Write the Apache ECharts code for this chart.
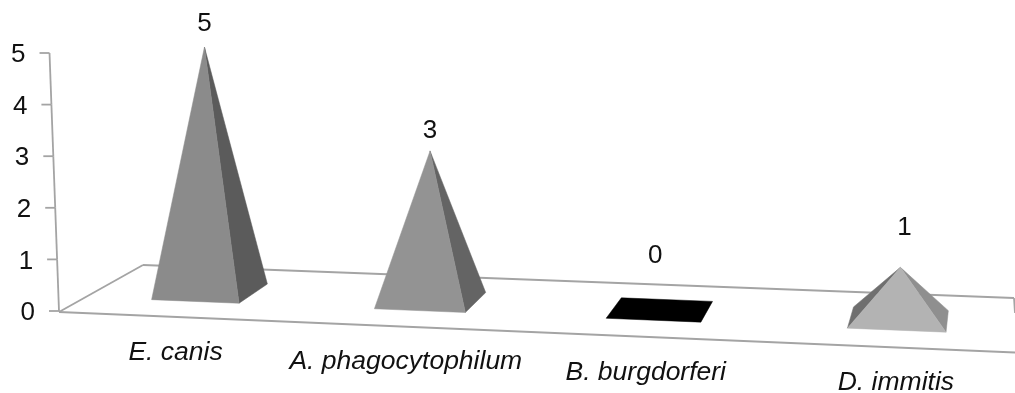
<!DOCTYPE html>
<html>
<head>
<meta charset="utf-8">
<style>html,body{margin:0;padding:0;background:#fff}#chart{width:1015px;height:393px}</style>
<script src="https://cdn.jsdelivr.net/npm/echarts@6/dist/echarts.min.js"></script>
</head>
<body>
<div id="chart"></div>
<script>
// Positive samples per pathogen
const categories = ['E. canis', 'A. phagocytophilum', 'B. burgdorferi', 'D. immitis'];
const positives = [5, 3, 0, 1];
const tickValues = [0, 1, 2, 3, 4, 5];

// Face shades per pyramid: front, right, left
const faceShades = [
  ['#8b8b8b', '#5b5b5b', '#5b5b5b'],
  ['#939393', '#646464', '#646464'],
  ['#000000', '#000000', '#000000'],
  ['#b3b3b3', '#8f8f8f', '#6f6f6f']
];
// Value label lift above the apex and sideways nudge
const labelShift = [[0, 23.5], [0, 20.5], [-5, 53.5], [4, 40]];

const LINE = '#a4a4a4';
const FONT = '"Liberation Sans", Arial, sans-serif';
const TEXT_SIZE = 26;

// Floor plane corners on the page: front-left, front-right, back-right, back-left
const corners = [[59, 312], [1015, 352.5], [1014, 298], [143, 265]];

// Unit square to floor quad, as a projective map
function buildHomography(q) {
  const [A, B, C, D] = q;
  const dx1 = B[0] - C[0], dy1 = B[1] - C[1];
  const dx2 = D[0] - C[0], dy2 = D[1] - C[1];
  const sx = A[0] - B[0] + C[0] - D[0], sy = A[1] - B[1] + C[1] - D[1];
  const det = dx1 * dy2 - dx2 * dy1;
  const g = (sx * dy2 - dx2 * sy) / det;
  const h = (dx1 * sy - sx * dy1) / det;
  return {
    g, h,
    a: B[0] - A[0] + g * B[0], b: D[0] - A[0] + h * D[0], c: A[0],
    d: B[1] - A[1] + g * B[1], e: D[1] - A[1] + h * D[1], f: A[1]
  };
}
const H = buildHomography(corners);
const denom = (u, w) => H.g * u + H.h * w + 1;
const floorPoint = (u, w) => {
  const z = denom(u, w);
  return [(H.a * u + H.b * w + H.c) / z, (H.d * u + H.e * w + H.f) / z];
};
// Verticals converge slightly as they rise
const tilt = x => (x - 500) / 12000;
const toU = x => (x - corners[0][0]) / (corners[1][0] - corners[0][0]);

const HALF_U = 0.05, NEAR_W = 0.3, FAR_W = 0.7, MID_W = 0.5, HEIGHT_SCALE = 0.985;

// Sign says which side of the directed ray a -> b the point p falls on
const cross = (a, b, p) => (b[0] - a[0]) * (p[1] - a[1]) - (b[1] - a[1]) * (p[0] - a[0]);

function renderPyramid(params, api) {
  const i = api.value(0), v = api.value(1);
  const cx = api.coord([i, 0])[0];
  const unitPx = api.coord([i, 0])[1] - api.coord([i, 1])[1];
  const u = toU(cx);
  const centre = floorPoint(u, MID_W);
  const rise = v * unitPx * HEIGHT_SCALE / denom(u, MID_W);
  const apex = [centre[0] + tilt(centre[0]) * rise, centre[1] - rise];
  const FL = floorPoint(u - HALF_U, NEAR_W), FR = floorPoint(u + HALF_U, NEAR_W);
  const BR = floorPoint(u + HALF_U, FAR_W), BL = floorPoint(u - HALF_U, FAR_W);
  const shade = faceShades[i];
  const poly = (points, fill, z2) => ({
    type: 'polygon', z2, shape: { points },
    style: { fill, stroke: fill, lineWidth: 0.5 }
  });
  const children = [];
  if (v === 0) {
    children.push(poly([FL, BL, BR, FR], shade[0], 2));
  } else {
    if (cross(FL, apex, BL) < 0) children.push(poly([FL, BL, apex], shade[2], 1));
    if (cross(FR, apex, BR) > 0) children.push(poly([FR, BR, apex], shade[1], 1));
    children.push(poly([FL, FR, apex], shade[0], 2));
  }
  const shift = labelShift[i];
  children.push({
    type: 'text', z2: 5,
    style: {
      text: String(v), x: apex[0] + shift[0], y: apex[1] - shift[1],
      font: TEXT_SIZE + 'px ' + FONT, fill: '#111', align: 'center', verticalAlign: 'middle'
    }
  });
  return { type: 'group', children };
}

function renderCategoryLabel(params, api) {
  const i = api.value(0);
  const u = toU(api.coord([i, 0])[0]);
  const front = floorPoint(u, 0);
  return {
    type: 'text',
    style: {
      text: categories[i], x: front[0] + 4.5 - 2 * u, y: front[1] + 35.5,
      font: 'italic 26.5px ' + FONT, fill: '#111', align: 'center', verticalAlign: 'middle'
    }
  };
}

// Slanted wall axis: one tick, one number and one spine segment per value
function renderAxisTick(params, api) {
  const v = api.value(1);
  const y = api.coord([0, v])[1], y0 = api.coord([0, 0])[1];
  const base = corners[0];
  const x = base[0] + tilt(base[0]) * (y0 - y);
  const children = [
    { type: 'line', shape: { x1: x - 10, y1: y, x2: x, y2: y }, style: { stroke: LINE, lineWidth: 1.8 } },
    {
      type: 'text',
      style: {
        text: String(v), x: x - 24, y: y + 2,
        font: TEXT_SIZE + 'px ' + FONT, fill: '#111', align: 'right', verticalAlign: 'middle'
      }
    }
  ];
  if (v > 0) {
    const yNext = api.coord([0, v - 1])[1];
    const xNext = base[0] + tilt(base[0]) * (y0 - yNext);
    children.push({ type: 'line', shape: { x1: x, y1: y, x2: xNext, y2: yNext }, style: { stroke: LINE, lineWidth: 1.8 } });
  }
  return { type: 'group', children };
}

function renderFloor() {
  const [A, B, C, D] = corners;
  const seg = (p, q) => ({
    type: 'line', shape: { x1: p[0], y1: p[1], x2: q[0], y2: q[1] },
    style: { stroke: LINE, lineWidth: 1.8 }
  });
  return {
    type: 'group',
    children: [seg(A, B), seg(A, D), seg(D, C), seg(C, [C[0] + 1, C[1] + 15])]
  };
}

const chart = echarts.init(document.getElementById('chart'), null, { renderer: 'canvas' });
chart.setOption({
  animation: false,
  backgroundColor: '#ffffff',
  grid: { left: 59.3, right: -6.9, top: 53, bottom: 82, outerBoundsMode: 'none' },
  xAxis: { type: 'category', data: categories, show: false },
  yAxis: { type: 'value', min: 0, max: 5, interval: 1, show: false },
  series: [
    { type: 'custom', name: 'floor', clip: false, z: 1, silent: true, renderItem: renderFloor, data: [[0, 0]] },
    { type: 'custom', name: 'axis', clip: false, z: 2, silent: true, renderItem: renderAxisTick,
      data: tickValues.map(t => [0, t]) },
    { type: 'custom', name: 'labels', clip: false, z: 2, silent: true, renderItem: renderCategoryLabel,
      data: categories.map((c, i) => [i, 0]) },
    { type: 'custom', name: 'Positive', clip: false, z: 3, renderItem: renderPyramid,
      data: positives.map((v, i) => [i, v]) }
  ]
});
</script>
</body>
</html>
